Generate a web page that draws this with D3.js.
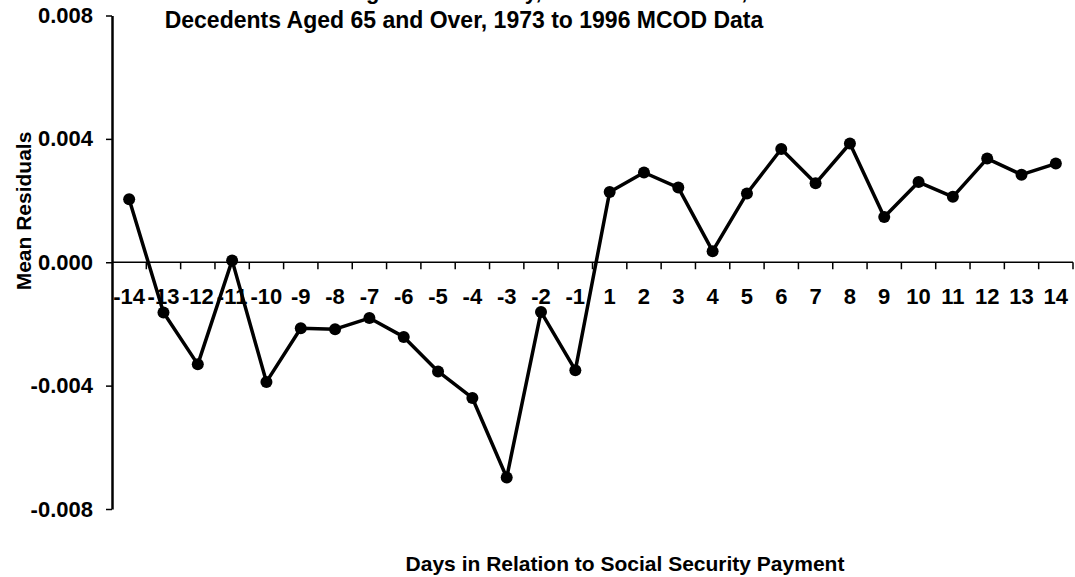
<!DOCTYPE html>
<html>
<head>
<meta charset="utf-8">
<script src="https://cdn.jsdelivr.net/npm/d3@7"></script>
<style>
    body { margin: 0; background: #fff; }
    svg { display: block; }
    text { font-family: Arial, "Liberation Sans", sans-serif; font-weight: bold; fill: #000; }
</style>
</head>
<body>
<svg id="chart" width="1075" height="577"></svg>
<script>
    // Days before / after the payment day (there is no day 0)
    var days = [-14, -13, -12, -11, -10, -9, -8, -7, -6, -5, -4, -3, -2, -1,
        1, 2, 3, 4, 5, 6, 7, 8, 9, 10, 11, 12, 13, 14];

    // Mean residuals
    var residuals = [0.00204, -0.00163, -0.00331, 0.00006, -0.00388, -0.00214, -0.00217,
        -0.00181, -0.00242, -0.00354, -0.0044, -0.00698, -0.00161, -0.0035,
        0.00228, 0.00291, 0.00242, 0.00036, 0.00223, 0.00367, 0.00256,
        0.00385, 0.00147, 0.0026, 0.00212, 0.00336, 0.00284, 0.0032];

    var yTicks = [-0.008, -0.004, 0, 0.004, 0.008];

    var titleLines = [
        'Mean Residuals Surrounding the Check Day, All Natural Causes,',
        'Decedents Aged 65 and Over, 1973 to 1996 MCOD Data'
    ];
    var xTitle = 'Days in Relation to Social Security Payment';
    var yTitle = 'Mean Residuals';

    var PLOT = { left: 112, right: 1073, top: 15.5, bottom: 509 },
        TICK_SIZE = 7,
        DOT_RADIUS = 6;

    var svg = d3.select('#chart');

    var x = d3.scaleBand()
        .domain(days)
        .range([PLOT.left, PLOT.right])
        .paddingInner(0)
        .paddingOuter(0);

    var y = d3.scaleLinear()
        .domain([-0.008, 0.008])
        .range([PLOT.bottom, PLOT.top]);

    // Title, the first line is pushed off the top edge like in the original
    svg.append('text')
        .attr('x', 75)
        .attr('y', -1.5)
        .attr('font-size', 22)
        .text(titleLines[0]);

    svg.append('text')
        .attr('x', 464)
        .attr('y', 27.5)
        .attr('text-anchor', 'middle')
        .attr('font-size', 23)
        .text(titleLines[1]);

    // Y axis
    var yAxis = d3.axisLeft(y)
        .tickValues(yTicks)
        .tickFormat(d3.format('.3f'))
        .tickSize(6)
        .tickPadding(13)
        .tickSizeOuter(0);

    var yAxisGroup = svg.append('g')
        .attr('transform', 'translate(' + PLOT.left + ',0)')
        .call(yAxis);

    yAxisGroup.select('.domain').attr('stroke', '#000').attr('stroke-width', 2.5);
    yAxisGroup.selectAll('.tick line').attr('stroke', '#000').attr('stroke-width', 1.5);
    yAxisGroup.selectAll('.tick text')
        .attr('font-size', 22)
        .attr('font-family', null)
        .attr('fill', '#000')
        .text(function(d) { return d3.format('.3f')(d).replace('−', '-'); });

    // X axis sits on zero, ticks between the categories
    var boundaries = days.map(function(d) { return x(d) + x.bandwidth(); });

    svg.append('line')
        .attr('x1', PLOT.left)
        .attr('x2', PLOT.right)
        .attr('y1', y(0))
        .attr('y2', y(0))
        .attr('stroke', '#000')
        .attr('stroke-width', 1.5);

    svg.append('g')
        .selectAll('line')
        .data(boundaries)
        .enter()
        .append('line')
        .attr('x1', function(d) { return d; })
        .attr('x2', function(d) { return d; })
        .attr('y1', y(0))
        .attr('y2', y(0) + TICK_SIZE)
        .attr('stroke', '#000')
        .attr('stroke-width', 1.5);

    // Line and markers
    var line = d3.line()
        .x(function(d, i) { return x(days[i]) + x.bandwidth() / 2; })
        .y(function(d) { return y(d); });

    svg.append('path')
        .datum(residuals)
        .attr('d', line)
        .attr('fill', 'none')
        .attr('stroke', '#000')
        .attr('stroke-width', 3.5)
        .attr('stroke-linejoin', 'round');

    svg.append('g')
        .selectAll('circle')
        .data(residuals)
        .enter()
        .append('circle')
        .attr('cx', function(d, i) { return x(days[i]) + x.bandwidth() / 2; })
        .attr('cy', function(d) { return y(d); })
        .attr('r', DOT_RADIUS)
        .attr('fill', '#000');

    // Category labels drawn on top of the line, as in the original
    svg.append('g')
        .selectAll('text')
        .data(days)
        .enter()
        .append('text')
        .attr('x', function(d) { return x(d) + x.bandwidth() / 2; })
        .attr('y', y(0) + 42)
        .attr('text-anchor', 'middle')
        .attr('font-size', 22)
        .text(function(d) { return d; });

    // Axis titles
    svg.append('text')
        .attr('x', 625)
        .attr('y', 571)
        .attr('text-anchor', 'middle')
        .attr('font-size', 21)
        .text(xTitle);

    svg.append('text')
        .attr('transform', 'translate(31,211) rotate(-90)')
        .attr('text-anchor', 'middle')
        .attr('font-size', 21)
        .text(yTitle);
</script>
</body>
</html>
